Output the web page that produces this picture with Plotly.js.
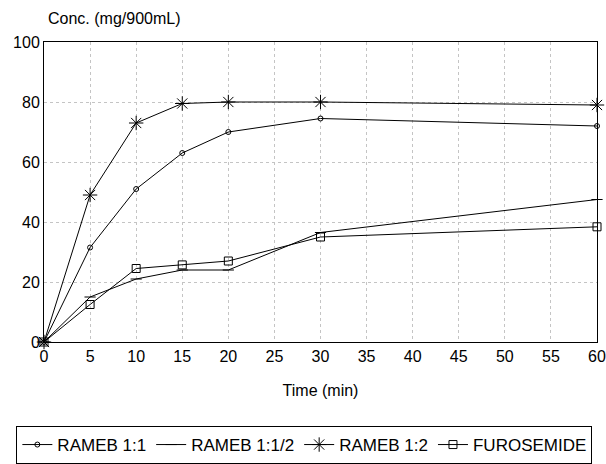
<!DOCTYPE html>
<html>
<head>
<meta charset="utf-8">
<script src="https://cdn.plot.ly/plotly-3.0.1.min.js"></script>
<style>html,body{margin:0;padding:0;background:#fff;}#chart{width:606px;height:464px;}</style>
</head>
<body>
<div id="chart"></div>
<script>
const timeMin = [0, 5, 10, 15, 20, 30, 60];
const rameb11 = [0, 31.5, 51, 63, 70, 74.5, 72];
const rameb112 = [0, 15, 21, 24, 24, 36.5, 47.5];
const rameb12 = [0, 49, 73, 79.5, 80, 80, 79];
const furosemide = [0, 12.5, 24.5, 25.7, 27, 35, 38.4];
const seriesNames = ["RAMEB 1:1", "RAMEB 1:1/2", "RAMEB 1:2", "FUROSEMIDE"];
const xTicks = [0, 5, 10, 15, 20, 25, 30, 35, 40, 45, 50, 55, 60];
const yTicks = [0, 20, 40, 60, 80, 100];

const FONT = "Liberation Sans, Arial, Helvetica, sans-serif";
function tr(y, name, symbol, size) {
  return {
    x: timeMin, y: y, name: name, type: "scatter", mode: "lines+markers",
    line: {color: "#000", width: 1},
    marker: {symbol: symbol, size: size, color: "#000", line: {color: "#000", width: 1}},
    cliponaxis: false
  };
}
const data = [
  tr(rameb11, seriesNames[0], "circle-open", 5),
  tr(rameb112, seriesNames[1], "line-ew-open", 8),
  tr(rameb12, seriesNames[2], "asterisk-open", 12),
  tr(furosemide, seriesNames[3], "square-open", 8)
];
const layout = {
  width: 606, height: 464,
  margin: {l: 44, r: 9, t: 42, b: 122, autoexpand: false},
  paper_bgcolor: "#fff", plot_bgcolor: "#fff",
  font: {family: FONT, size: 14, color: "#000"},
  title: {text: "Conc. (mg/900mL)", x: 48/606, xanchor: "left", y: 1 - 18/464, yanchor: "middle",
          font: {family: FONT, size: 16, color: "#000"}},
  xaxis: {
    range: [0, 60], tickvals: xTicks, ticktext: xTicks.map(String),
    showline: true, linecolor: "#000", linewidth: 1, mirror: true,
    showgrid: true, gridcolor: "#c4c4c4", griddash: "dot", gridwidth: 1,
    zeroline: false, ticks: "", tickfont: {size: 16}, ticklabeloverflow: "allow",
    automargin: false,
    title: {text: "Time (min)", font: {size: 16}, standoff: 20}
  },
  yaxis: {
    range: [0, 100], tickvals: yTicks, ticktext: yTicks.map(String),
    showline: true, linecolor: "#000", linewidth: 1, mirror: true,
    showgrid: true, gridcolor: "#c4c4c4", griddash: "dot", gridwidth: 1,
    zeroline: false, ticks: "", tickfont: {size: 16}, automargin: false
  },
  showlegend: true,
  legend: {
    orientation: "h", x: -0.05, xanchor: "left", y: -0.28, yanchor: "top",
    bordercolor: "#000", borderwidth: 1, font: {size: 17}, itemwidth: 30
  }
};
Plotly.newPlot("chart", data, layout, {displayModeBar: false, staticPlot: true});
</script>
</body>
</html>
